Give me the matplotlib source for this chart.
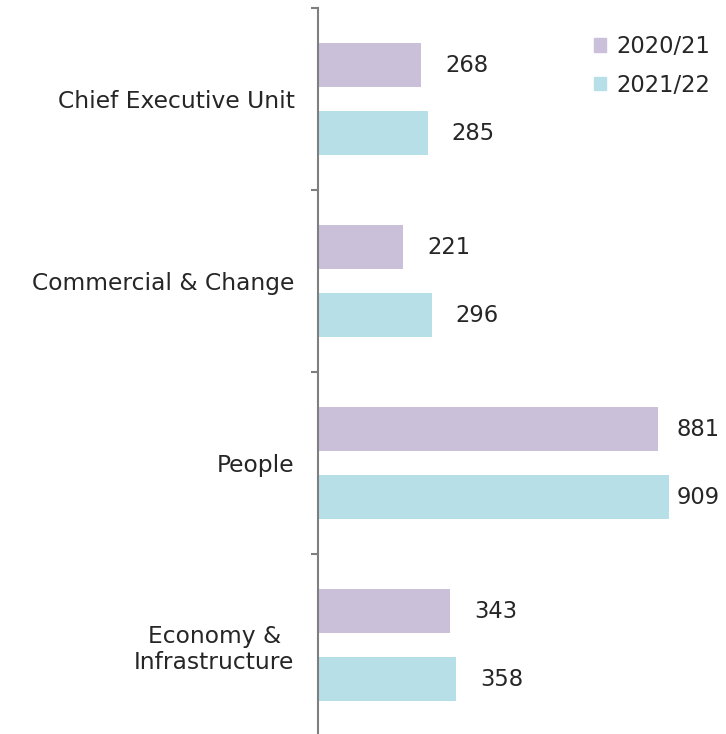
import matplotlib

matplotlib.use("Agg")
import matplotlib.pyplot as plt
from matplotlib.patches import Patch

categories = ["Chief Executive Unit", "Commercial & Change", "People", "Economy &\nInfrastructure"]
series_names = ["2020/21", "2021/22"]
values_2020 = [268, 221, 881, 343]
values_2021 = [285, 296, 909, 358]

colors = ["#cbc0da", "#b7dfe8"]
text_color = "#262626"
axis_color = "#7f7f7f"
cat_size = 16.8
val_size = 16.3

fig = plt.figure(figsize=(7.26, 7.34), dpi=100)
ax = fig.add_axes([318 / 726, -2 / 734, 1 - 318 / 726, 728 / 734])

ypos = list(range(len(categories)))
offset = 34 / 182
height = 44 / 182
labels = []
for vals, sign, color in [(values_2020, -1, colors[0]), (values_2021, 1, colors[1])]:
    ys = [y + sign * offset for y in ypos]
    ax.barh(ys, vals, height=height, color=color)
    for y, v in zip(ys, vals):
        t = ax.annotate(str(v), (v, y), xytext=(17, 0), textcoords="offset points",
                        va="center", ha="left", fontsize=val_size, color=text_color)
        labels.append(t)

ax.set_xlim(0, 1057)
ax.set_ylim(len(categories) - 0.5, -0.5)

ax.set_yticks([i - 0.5 for i in range(len(categories) + 1)])
ax.set_yticklabels([])
ax.tick_params(axis="y", which="major", length=5, width=1.5, color=axis_color, direction="out")
ax.set_yticks(ypos, minor=True)
ax.set_yticklabels(categories, minor=True, fontsize=cat_size, color=text_color, ha="right",
                   multialignment="center")
ax.tick_params(axis="y", which="minor", length=0, pad=17)
ax.set_xticks([])

for side in ["top", "right", "bottom"]:
    ax.spines[side].set_visible(False)
ax.spines["left"].set_color(axis_color)
ax.spines["left"].set_linewidth(1.5)

handles = [Patch(color=c, label=n) for c, n in zip(colors, series_names)]
ax.legend(handles=handles, loc="upper right", frameon=False, fontsize=val_size,
          handlelength=0.55, handleheight=0.55, handletextpad=0.45, labelspacing=0.7,
          labelcolor=text_color, borderaxespad=0.3, bbox_to_anchor=(1.0, 0.985))

# keep value labels inside the figure, like the original does for the longest bars
fig.canvas.draw()
renderer = fig.canvas.get_renderer()
fig_w = fig.bbox.width
for t in labels:
    bb = t.get_window_extent(renderer)
    over = bb.x1 - (fig_w - 6)
    if over > 0:
        dx, dy = t.xyann
        t.xyann = (dx - over * 72 / fig.dpi, dy)

fig.savefig("out.png", dpi=100)
plt.close(fig)
